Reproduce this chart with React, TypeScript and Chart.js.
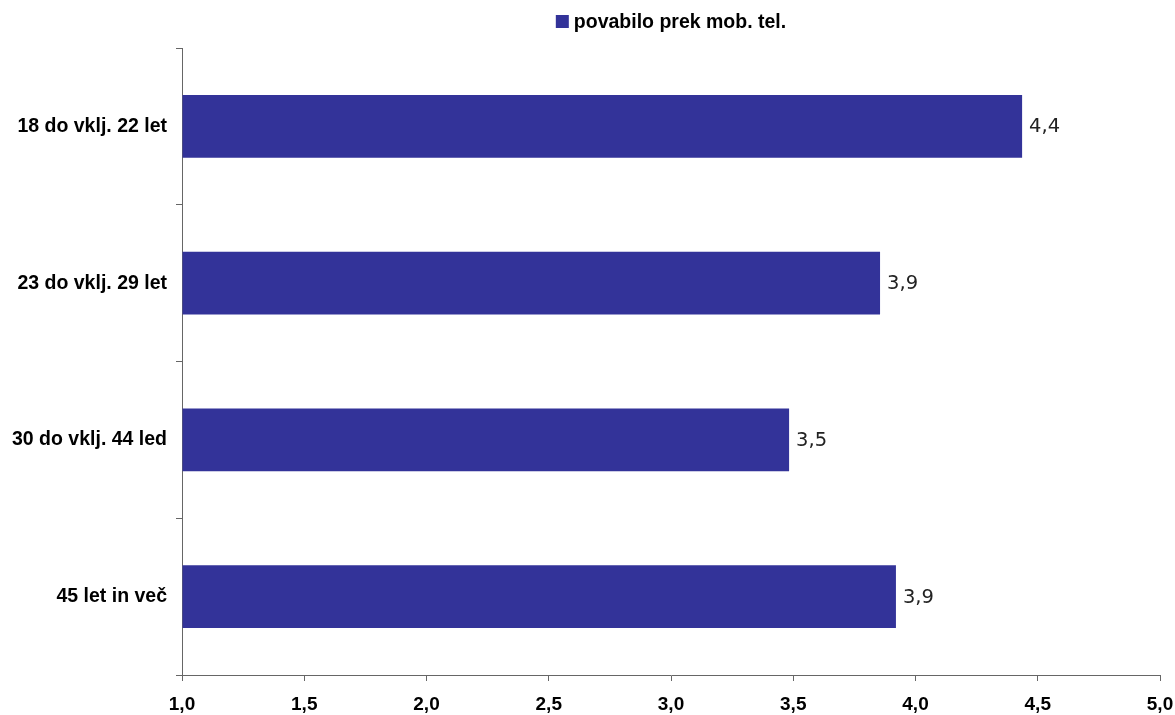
import React, { useEffect, useRef } from "react";
import { Chart, registerables } from "chart.js";

Chart.register(...registerables);

// Age groups and mean scores for mobile-phone invitations
const categories = [
  "18 do vklj. 22 let",
  "23 do vklj. 29 let",
  "30 do vklj. 44 led",
  "45 let in več",
];
const seriesLabel = "povabilo prek mob. tel.";
const seriesValues = [4.436, 3.855, 3.483, 3.92];
const axisMin = 1;
const axisMax = 5;
const axisStep = 0.5;

const BAR_COLOR = "#333399";
const AXIS_COLOR = "#666666";
const LABEL_FONT = "Liberation Sans, Arial, sans-serif";

const fmt = (v: number) => v.toFixed(1).replace(".", ",");

// Legend centred over the plot area
const centeredLegend = {
  id: "centeredLegend",
  afterDraw(chart: any) {
    const { ctx, chartArea } = chart;
    const ds = chart.data.datasets[0];
    ctx.save();
    ctx.font = `bold 19.5px ${LABEL_FONT}`;
    const text = ds.label as string;
    const box = 13;
    const gap = 5;
    const w = box + gap + ctx.measureText(text).width;
    const x0 = (chartArea.left + chartArea.right) / 2 - w / 2;
    const yc = 21.5;
    ctx.fillStyle = ds.backgroundColor;
    ctx.fillRect(x0, yc - box / 2, box, box);
    ctx.fillStyle = "#000000";
    ctx.textBaseline = "middle";
    ctx.textAlign = "left";
    ctx.fillText(text, x0 + box + gap, yc + 1);
    ctx.restore();
  },
};

// Value labels to the right of each bar
const valueLabels = {
  id: "valueLabels",
  afterDatasetsDraw(chart: any) {
    const { ctx } = chart;
    const meta = chart.getDatasetMeta(0);
    const data = chart.data.datasets[0].data as number[];
    ctx.save();
    ctx.font = `19.5px "DejaVu Sans", sans-serif`;
    ctx.fillStyle = "#222222";
    ctx.textBaseline = "middle";
    ctx.textAlign = "left";
    meta.data.forEach((bar: any, i: number) => {
      ctx.fillText(fmt(data[i]), bar.x + 7, bar.y + 1);
    });
    ctx.restore();
  },
};

export default function App() {
  const canvasRef = useRef<HTMLCanvasElement | null>(null);

  useEffect(() => {
    if (!canvasRef.current) return;
    const chart = new Chart(canvasRef.current, {
      type: "bar",
      data: {
        labels: categories,
        datasets: [
          {
            label: seriesLabel,
            data: seriesValues,
            backgroundColor: BAR_COLOR,
            borderWidth: 0,
            barPercentage: 0.4,
            categoryPercentage: 1,
            base: axisMin,
          },
        ],
      },
      options: {
        indexAxis: "y",
        animation: false,
        responsive: false,
        maintainAspectRatio: false,
        layout: { padding: { top: 48, right: 15, left: 0, bottom: 0 } },
        plugins: {
          legend: { display: false },
          tooltip: { enabled: false },
        },
        scales: {
          x: {
            type: "linear",
            min: axisMin,
            max: axisMax,
            afterFit: (scale: any) => {
              scale.height = 40;
              scale.paddingLeft = 0;
              scale.paddingRight = 0;
            },
            ticks: {
              stepSize: axisStep,
              color: "#000000",
              font: { family: LABEL_FONT, size: 19, weight: "bold" },
              padding: 12,
              maxRotation: 0,
              callback: (v: any) => fmt(Number(v)),
            },
            grid: {
              drawOnChartArea: false,
              drawTicks: true,
              tickLength: 6,
              color: AXIS_COLOR,
            },
            border: { color: AXIS_COLOR, width: 1 },
          },
          y: {
            type: "category",
            offset: true,
            afterFit: (scale: any) => {
              scale.width = 182;
            },
            ticks: {
              color: "#000000",
              font: { family: LABEL_FONT, size: 19.5, weight: "bold" },
              padding: 9,
            },
            grid: {
              offset: true,
              drawOnChartArea: false,
              drawTicks: true,
              tickLength: 6,
              color: AXIS_COLOR,
            },
            border: { color: AXIS_COLOR, width: 1 },
          },
        },
      },
      plugins: [centeredLegend, valueLabels],
    });
    return () => chart.destroy();
  }, []);

  return (
    <div
      style={{
        position: "absolute",
        left: 0,
        top: 0,
        width: 1175,
        height: 715,
        background: "#ffffff",
      }}
    >
      <canvas ref={canvasRef} width={1175} height={715} />
    </div>
  );
}
